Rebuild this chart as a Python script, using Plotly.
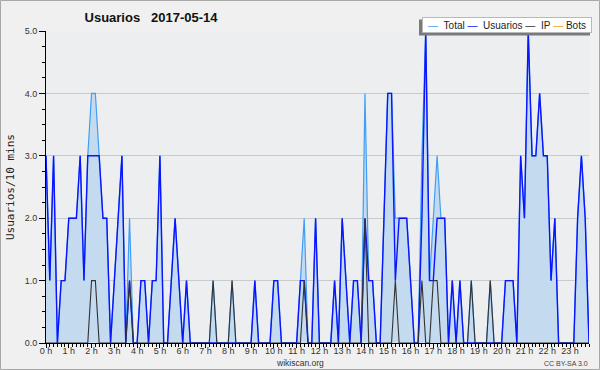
import plotly.graph_objects as go

# ---------------- data (10-minute bins, 144 per day) ----------------
hour_labels = [f"{h} h" for h in range(24)]

usuarios = [
    3, 1, 3, 0, 1, 1,   2, 2, 2, 3, 1, 3,   3, 3, 3, 2, 2, 0,   1, 2, 3, 0, 1, 0,
    0, 1, 1, 0, 1, 1,   3, 0, 0, 1, 2, 1,   0, 1, 0, 0, 0, 0,   0, 0, 0, 0, 0, 0,
    0, 0, 0, 0, 0, 0,   0, 1, 0, 0, 0, 0,   1, 1, 0, 0, 0, 0,   0, 1, 1, 0, 0, 2,
    0, 0, 0, 0, 1, 0,   2, 1, 0, 1, 1, 0,   2, 1, 1, 0, 0, 2,   4, 4, 1, 2, 2, 2,
    1, 0, 0, 2, 5, 1,   1, 2, 2, 2, 0, 1,   0, 1, 0, 0, 0, 0,   0, 0, 0, 0, 0, 0,
    0, 1, 1, 1, 0, 3,   2, 5, 3, 3, 4, 3,   3, 1, 2, 0, 0, 0,   0, 0, 2, 3, 2, 0,
]

ip = [
    0, 0, 0, 0, 0, 0,   0, 0, 0, 0, 0, 0,   1, 1, 0, 0, 0, 0,   0, 0, 0, 0, 1, 0,
    0, 0, 0, 0, 0, 0,   0, 0, 0, 0, 0, 0,   0, 0, 0, 0, 0, 0,   0, 0, 1, 0, 0, 0,
    0, 1, 0, 0, 0, 0,   0, 0, 0, 0, 0, 0,   0, 0, 0, 0, 0, 0,   0, 0, 1, 0, 0, 0,
    0, 0, 0, 0, 0, 0,   0, 0, 0, 0, 0, 0,   2, 0, 0, 0, 0, 0,   0, 0, 1, 0, 0, 0,
    0, 0, 0, 1, 0, 0,   1, 1, 0, 0, 0, 0,   0, 0, 0, 0, 1, 0,   0, 0, 0, 1, 0, 0,
    0, 0, 0, 0, 0, 0,   0, 0, 0, 0, 0, 0,   0, 0, 0, 0, 0, 0,   0, 0, 0, 0, 0, 0,
]

total = [
    3, 1, 3, 0, 1, 1,   2, 2, 2, 3, 1, 3,   4, 4, 3, 2, 2, 0,   1, 2, 3, 0, 2, 0,
    0, 1, 1, 0, 1, 1,   3, 0, 0, 1, 2, 1,   0, 1, 0, 0, 0, 0,   0, 0, 1, 0, 0, 0,
    0, 1, 0, 0, 0, 0,   0, 1, 0, 0, 0, 0,   1, 1, 0, 0, 0, 0,   0, 1, 2, 0, 0, 2,
    0, 0, 0, 0, 1, 0,   2, 1, 0, 1, 1, 0,   4, 1, 1, 0, 0, 2,   4, 4, 2, 2, 2, 2,
    1, 0, 0, 3, 5, 1,   2, 3, 2, 2, 0, 1,   0, 1, 0, 0, 1, 0,   0, 0, 0, 1, 0, 0,
    0, 1, 1, 1, 0, 3,   2, 5, 3, 3, 4, 3,   3, 1, 2, 0, 0, 0,   0, 0, 2, 3, 2, 0,
]

bins = list(range(len(total)))
tick_positions = [6 * h for h in range(24)]

# ---------------- styling ----------------
C_TOTAL = "#3f9ef5"
C_USERS = "#0a14ff"
C_IP = "#333333"
C_BOTS = "#ff9a1a"
FILL = "#c4dbef"

W_PX, H_PX = 600, 370
ML, MR, MT, MB = 46, 11, 31, 27
PW = W_PX - ML - MR
PH = H_PX - MT - MB


def pxx(x):
    return (x - ML) / PW


def pxy(y):
    return (H_PX - MB - y) / PH


fig = go.Figure()
fig.add_trace(go.Scatter(x=bins, y=total, mode="lines", fill="tozeroy",
                         fillcolor=FILL, line=dict(color=C_TOTAL, width=1.2),
                         name="Total", showlegend=False))
fig.add_trace(go.Scatter(x=bins, y=usuarios, mode="lines",
                         line=dict(color=C_USERS, width=1.4),
                         name="Usuarios", showlegend=False))
fig.add_trace(go.Scatter(x=bins, y=ip, mode="lines",
                         line=dict(color=C_IP, width=1.1),
                         name="IP", showlegend=False))

legend_text = (
    f'<span style="color:{C_TOTAL}">—</span>\u00a0\u00a0Total\u00a0'
    f'<span style="color:{C_USERS}">—</span>\u00a0\u00a0Usuarios\u00a0'
    f'<span style="color:{C_IP}">—</span>\u00a0\u00a0IP\u00a0'
    f'<span style="color:{C_BOTS}">—</span>\u00a0Bots'
)

fig.update_layout(
    width=W_PX, height=H_PX,
    margin=dict(l=ML, r=MR, t=MT, b=MB, pad=0),
    paper_bgcolor="#f0f0f0",
    plot_bgcolor="#edeef0",
    showlegend=False,
    title=dict(text="<b>Usuarios\u00a0\u00a0\u00a02017-05-14</b>",
               x=151 / W_PX, xref="container", xanchor="center",
               y=1 - 17 / H_PX, yref="container", yanchor="middle",
               font=dict(family="Liberation Sans", size=13, color="#111")),
    xaxis=dict(range=[0, len(bins) - 1], tickmode="array",
               tickvals=tick_positions, ticktext=hour_labels,
               showline=True, linecolor="#000", linewidth=1,
               ticks="outside", ticklen=4, tickcolor="#000", tickwidth=1,
               minor=dict(dtick=1, tick0=0, ticks="outside", ticklen=3,
                          tickcolor="#000", showgrid=False),
               showgrid=False, zeroline=False,
               ticklabelstandoff=-5,
               tickfont=dict(family="Liberation Sans", size=9, color="#333")),
    yaxis=dict(range=[0, 5], tickmode="linear", tick0=0, dtick=1,
               tickformat=".1f",
               showline=True, linecolor="#000", linewidth=1,
               ticks="outside", ticklen=6, tickcolor="#000", tickwidth=1,
               minor=dict(dtick=0.25, ticks="outside", ticklen=3,
                          tickcolor="#000", showgrid=False),
               showgrid=True, gridcolor="#c9cacc", gridwidth=1,
               zeroline=False,
               tickfont=dict(family="Liberation Sans", size=9, color="#333")),
    shapes=[
        dict(type="rect", xref="paper", yref="paper",
             x0=pxx(0.5), x1=pxx(599.5), y0=pxy(0.5), y1=pxy(369.5),
             line=dict(color="#a8a8a8", width=1), fillcolor="rgba(0,0,0,0)",
             layer="below"),
        dict(type="rect", xref="paper", yref="paper",
             x0=pxx(419), x1=pxx(590), y0=pxy(19.5), y1=pxy(35.5),
             line=dict(width=0), fillcolor="#7a7a7a", layer="above"),
    ],
    annotations=[
        dict(text=legend_text, xref="paper", yref="paper",
             x=pxx(422), y=pxy(17), xanchor="left", yanchor="top",
             showarrow=False, bgcolor="#ffffff", bordercolor="#b8b8b8",
             borderwidth=1, borderpad=1, width=166, height=12,
             font=dict(family="Liberation Sans", size=10, color="#222")),
        dict(text="Usuarios/10 mins", xref="paper", yref="paper",
             x=pxx(10), y=pxy(187), xanchor="center", yanchor="middle",
             textangle=-90, showarrow=False,
             font=dict(family="DejaVu Sans Mono", size=11, color="#222")),
        dict(text="wikiscan.org", xref="paper", yref="paper",
             x=pxx(300), y=pxy(363), xanchor="center", yanchor="middle",
             showarrow=False,
             font=dict(family="Liberation Sans", size=8.5, color="#333")),
        dict(text="CC BY-SA 3.0", xref="paper", yref="paper",
             x=pxx(590), y=pxy(363.5), xanchor="right", yanchor="middle",
             showarrow=False,
             font=dict(family="Liberation Sans", size=7, color="#444")),
    ],
)

fig.write_html("out.html")
